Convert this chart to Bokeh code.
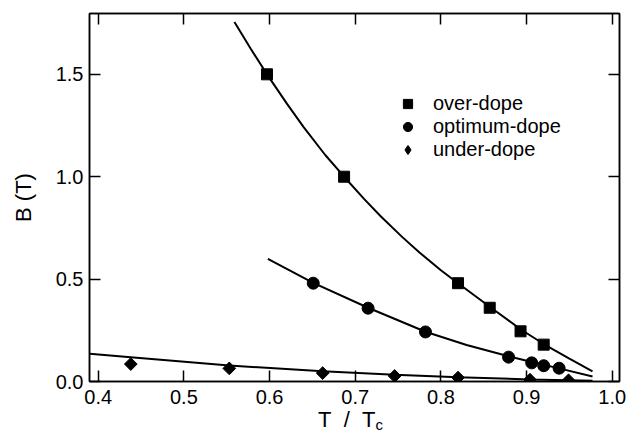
import numpy as np
from bokeh.plotting import figure
from bokeh.layouts import column
from bokeh.models import (Range1d, FixedTicker, PrintfTickFormatter, LinearAxis,
                          Legend, LegendItem, Div, CustomJSTickFormatter)
from bokeh.embed import file_html
from bokeh.resources import INLINE

# ---- data ----
over_x = [0.597, 0.687, 0.820, 0.857, 0.893, 0.920]
over_y = [1.50, 1.00, 0.48, 0.36, 0.245, 0.18]
opt_x = [0.651, 0.715, 0.782, 0.879, 0.906, 0.920, 0.938]
opt_y = [0.48, 0.358, 0.242, 0.119, 0.091, 0.077, 0.065]
under_x = [0.438, 0.553, 0.662, 0.746, 0.820, 0.904, 0.949]
under_y = [0.085, 0.064, 0.041, 0.027, 0.019, 0.009, 0.006]

# fitted curves
over_fit_x = [0.559, 0.578, 0.597, 0.62, 0.64, 0.665, 0.687, 0.71, 0.73, 0.755,
              0.775, 0.80, 0.82, 0.857, 0.893, 0.92, 0.95, 0.977]
over_fit_y = [1.756, 1.625, 1.50, 1.358, 1.241, 1.106, 1.00, 0.893, 0.806, 0.705,
              0.63, 0.543, 0.48, 0.365, 0.255, 0.183, 0.112, 0.05]
opt_fit_x = [0.598, 0.651, 0.715, 0.782, 0.83, 0.879, 0.906, 0.938, 0.977]
opt_fit_y = [0.599, 0.482, 0.36, 0.243, 0.178, 0.123, 0.095, 0.064, 0.024]
under_fit_x = [0.39, 0.438, 0.553, 0.662, 0.746, 0.82, 0.904, 0.977]
under_fit_y = [0.135, 0.118, 0.078, 0.05, 0.033, 0.021, 0.01, 0.004]

x_ticks = [0.4, 0.5, 0.6, 0.7, 0.8, 0.9, 1.0]
y_ticks = [0.0, 0.5, 1.0, 1.5]
labels = ["over-dope", "optimum-dope", "under-dope"]

FONT = "Liberation Sans"

p = figure(width=630, height=413, output_backend="svg", toolbar_location=None,
           x_range=Range1d(0.3898, 1.0085), y_range=Range1d(0.0, 1.797),
           min_border_left=89, min_border_right=11, min_border_top=13,
           min_border_bottom=32)
p.grid.visible = False
p.outline_line_color = "black"
p.outline_line_width = 1.5
p.background_fill_color = "white"
p.border_fill_color = "white"

for ax, ticks in ((p.xaxis[0], x_ticks), (p.yaxis[0], y_ticks)):
    ax.ticker = FixedTicker(ticks=ticks)
    ax.formatter = PrintfTickFormatter(format="%.1f")
    ax.major_tick_in = 11
    ax.major_tick_out = 0
    ax.minor_tick_line_color = None
    ax.major_tick_line_width = 1.5
    ax.axis_line_width = 1.5
    ax.major_label_text_font = FONT
    ax.major_label_text_font_size = "20px"
    ax.major_label_text_color = "black"
p.xaxis[0].major_label_standoff = 8
p.yaxis[0].major_label_standoff = 6

p.yaxis[0].axis_label = "B (T)"
p.yaxis[0].axis_label_text_font = FONT
p.yaxis[0].axis_label_text_font_size = "22px"
p.yaxis[0].axis_label_text_font_style = "normal"
p.yaxis[0].axis_label_text_color = "black"
p.yaxis[0].axis_label_standoff = 17

blank = CustomJSTickFormatter(code="return ''")
top = LinearAxis(ticker=FixedTicker(ticks=x_ticks), formatter=blank,
                 major_tick_in=11, major_tick_out=0, minor_tick_line_color=None,
                 major_tick_line_width=1.5, axis_line_width=1.5,
                 major_label_standoff=0)
right = LinearAxis(ticker=FixedTicker(ticks=y_ticks), formatter=blank,
                   major_tick_in=11, major_tick_out=0, minor_tick_line_color=None,
                   major_tick_line_width=1.5, axis_line_width=1.5,
                   major_label_standoff=0)
p.add_layout(top, "above")
p.add_layout(right, "right")

# fitted curves
p.line(over_fit_x, over_fit_y, line_color="black", line_width=2)
p.line(opt_fit_x, opt_fit_y, line_color="black", line_width=2)
p.line(under_fit_x, under_fit_y, line_color="black", line_width=2)

# data points
r_sq = p.scatter(over_x, over_y, marker="square", size=11, color="black")
r_ci = p.scatter(opt_x, opt_y, marker="circle", size=12, color="black")
r_di = p.scatter(under_x, under_y, marker="square", size=9, angle=np.pi / 4,
                 color="black")
# legend key for the diamonds (legend keys ignore the angle of a marker)
r_di_key = p.scatter(x=[np.nan], y=[np.nan], marker="diamond", color="black")

legend = Legend(items=[LegendItem(label=labels[0], renderers=[r_sq]),
                       LegendItem(label=labels[1], renderers=[r_ci]),
                       LegendItem(label=labels[2], renderers=[r_di_key])],
                location=(305, 220), border_line_color=None,
                background_fill_alpha=0, padding=0, margin=0, spacing=0,
                glyph_width=27, glyph_height=23, label_height=23,
                label_standoff=12, label_text_font=FONT,
                label_text_font_size="20px", label_text_color="black")
p.add_layout(legend, "center")

# x-axis title with subscript (HTML text below the figure)
xtitle = Div(
    text=('<div style="position:relative; left:318px; top:-3px; white-space:nowrap; '
          'font-family:\'Liberation Sans\'; font-size:22px; line-height:20px; '
          'color:black;">T&nbsp;&nbsp;/&nbsp;&nbsp;T<span style="font-size:15px;'
          ' line-height:15px; vertical-align:-3px;">c</span></div>'),
    width=630, height=23, margin=(0, 0, 0, 0))

layout = column(p, xtitle, spacing=0)
open("out.html", "w").write(file_html(layout, INLINE))
